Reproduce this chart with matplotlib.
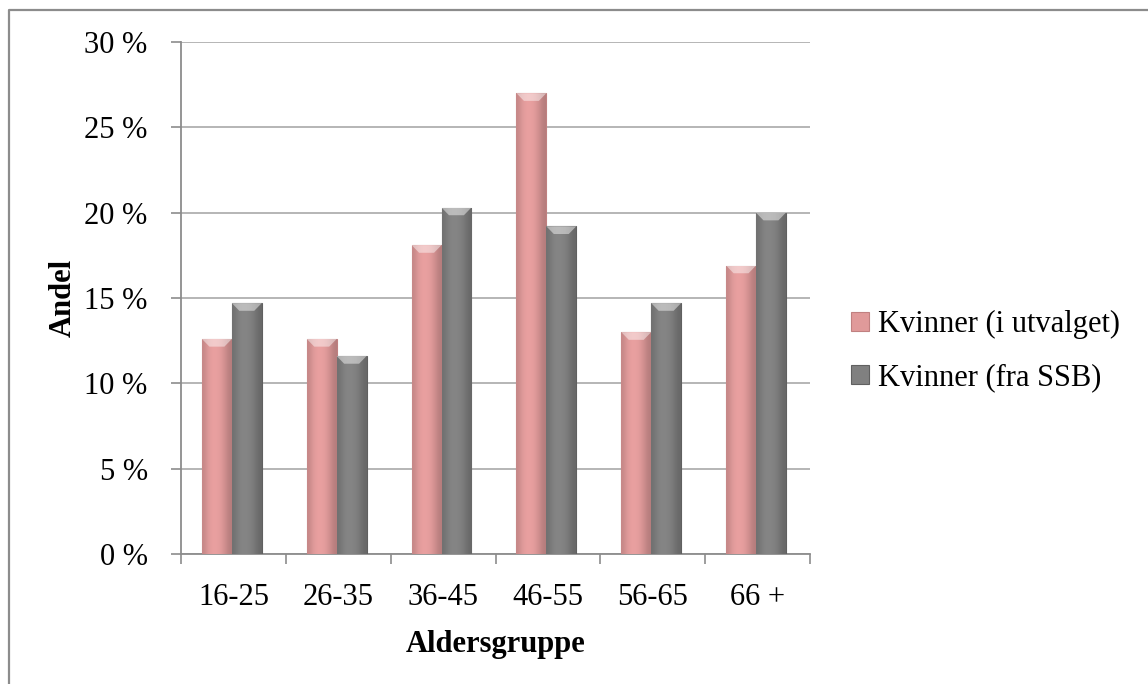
import numpy as np
import matplotlib
matplotlib.use("Agg")
import matplotlib.pyplot as plt
from matplotlib.lines import Line2D

# Data (percent)
groups = ['16-25', '26-35', '36-45', '46-55', '56-65', '66 +']
utvalget = [12.6, 12.6, 18.1, 27.0, 13.0, 16.9]
ssb = [14.7, 11.6, 20.3, 19.2, 14.7, 20.0]
series_names = ['Kvinner (i utvalget)', 'Kvinner (fra SSB)']

plt.rcParams['font.family'] = ['Liberation Serif', 'DejaVu Serif']
FS = 22

fig = plt.figure(figsize=(11.48, 6.84), dpi=100)
# outer chart border (only left and top edges are inside the picture)
W, H = 1148, 684
fig.lines.append(Line2D([9 / W, 9 / W, 1], [0, 1 - 10 / H, 1 - 10 / H],
                        transform=fig.transFigure, color='#8c8c8c', linewidth=1.6))
ax = fig.add_axes([181 / W, 1 - 554 / H, (810 - 181) / W, (554 - 42) / H])

x = np.arange(len(groups))
w = 0.285
off = -0.015
pink = '#e09a9a'
grey = '#808080'
b1 = ax.bar(x - w / 2 + off, utvalget, w, color=pink, edgecolor='#c08080', linewidth=0.8, zorder=3)
b2 = ax.bar(x + w / 2 + off, ssb, w, color=grey, edgecolor='#606060', linewidth=0.8, zorder=3)

# soft horizontal shading on each bar, like the bevelled Excel bars
shade = np.array([[0.85, 0.96, 1.0, 1.0, 0.96, 0.88, 0.78]])
for bars, base in ((b1, pink), (b2, grey)):
    rgb = np.array(matplotlib.colors.to_rgb(base))
    img = np.clip(shade[..., None] * rgb[None, None, :] * 1.04, 0, 1)
    for b in bars:
        bx, by = b.get_x(), b.get_y()
        bw, bh = b.get_width(), b.get_height()
        im = ax.imshow(img, extent=(bx, bx + bw, by, by + bh), aspect='auto',
                       interpolation='bicubic', zorder=3.5)
        im.set_clip_path(b)
        # light cap at the top
        ax.fill([bx, bx + bw, bx + bw * 0.75, bx + bw * 0.25],
                [by + bh, by + bh, by + bh - 0.45, by + bh - 0.45],
                color='white', alpha=0.45, zorder=4, linewidth=0)

ax.set_xlim(-0.5, len(groups) - 0.5)
ax.set_ylim(0, 30)
ax.set_yticks(np.arange(0, 31, 5))
ax.set_yticklabels([f'{v} %' for v in range(0, 31, 5)])
ax.set_xticks(x)
ax.set_xticklabels(groups)
ax.set_xticks(np.arange(-0.5, len(groups)), minor=True)
ax.tick_params(axis='x', which='major', length=0, pad=21, labelsize=FS)
ax.tick_params(axis='x', which='minor', length=7, width=1.2, color='#8c8c8c')
ax.tick_params(axis='y', length=7, width=1.2, color='#8c8c8c', labelsize=FS, pad=17)
ax.yaxis.grid(True, color='#b0b0b0', linewidth=1.3, zorder=0)
ax.set_axisbelow(True)
for side in ('top', 'right'):
    ax.spines[side].set_visible(False)
for side in ('left', 'bottom'):
    ax.spines[side].set_color('#8c8c8c')
    ax.spines[side].set_linewidth(1.3)

ax.set_ylabel('Andel', fontsize=FS, fontweight='bold', labelpad=5)
ax.set_xlabel('Aldersgruppe', fontsize=FS, fontweight='bold', labelpad=12.5)

ax.legend([b1, b2], series_names, loc='center left', bbox_to_anchor=(1.065, 0.396),
          frameon=False, fontsize=FS, handlelength=0.6, handleheight=0.6,
          handletextpad=0.28, labelspacing=0.8, borderpad=0, borderaxespad=0)

fig.savefig('out.png', dpi=100)
